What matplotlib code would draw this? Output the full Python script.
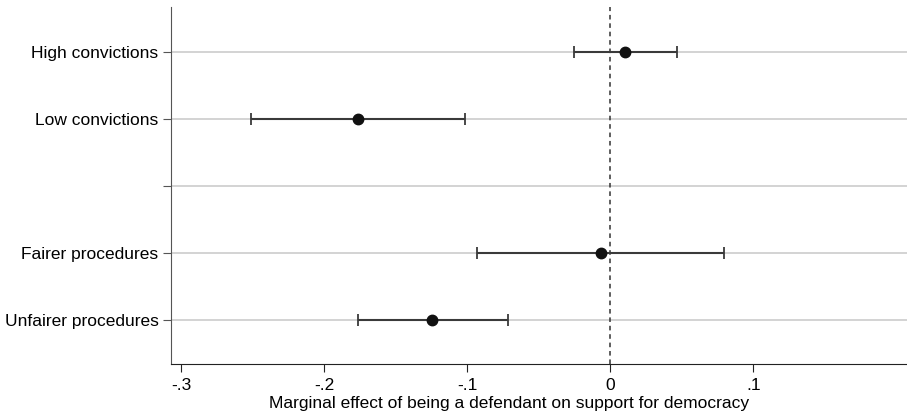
import matplotlib.pyplot as plt

plt.rcParams["font.family"] = ["Liberation Sans", "DejaVu Sans"]

# rows from top to bottom; the empty label is the spacer row
row_labels = ["High convictions", "Low convictions", "", "Fairer procedures", "Unfairer procedures"]
row_pos = [1, 2, 3, 4, 5]

point_labels = ["High convictions", "Low convictions", "Fairer procedures", "Unfairer procedures"]
point_pos = [1, 2, 4, 5]
estimate = [0.0107, -0.1762, -0.0067, -0.1242]
ci_low = [-0.0252, -0.2508, -0.0934, -0.1764]
ci_high = [0.0466, -0.1016, 0.0797, -0.0713]

xticks = [-0.3, -0.2, -0.1, 0.0, 0.1]
xtick_labels = ["-.3", "-.2", "-.1", "0", ".1"]

fig = plt.figure(figsize=(9.07, 4.16), dpi=100)
ax = fig.add_axes([171 / 907, 1 - 364 / 416, 1 - 171 / 907, (364 - 7) / 416])

for y in row_pos:
    ax.axhline(y, color="#c8c8c8", lw=1.1, zorder=1)

ax.axvline(0, color="#333333", lw=1.1, ls=(0, (3, 2.5)), zorder=2)

err_lo = [e - lo for e, lo in zip(estimate, ci_low)]
err_hi = [hi - e for e, hi in zip(estimate, ci_high)]
ax.errorbar(estimate, point_pos, xerr=[err_lo, err_hi], fmt="o", color="#111111",
            ecolor="#3a3a3a", elinewidth=1.5, capsize=4, capthick=1.3,
            markersize=7.5, zorder=3)

ax.set_xlim(-0.307, 0.2075)
ax.set_ylim(5.656, 0.334)
ax.set_yticks(row_pos)
ax.set_yticklabels(row_labels, fontsize=12.5)
ax.set_xticks(xticks)
ax.set_xticklabels(xtick_labels, fontsize=12.5)
ax.set_xlabel("Marginal effect of being a defendant on support for democracy", fontsize=12.5)
ax.xaxis.set_label_coords(0.46, -0.09)

for side in ["top", "right"]:
    ax.spines[side].set_visible(False)
ax.spines["left"].set_color("#555555")
ax.spines["bottom"].set_color("#222222")
ax.tick_params(axis="y", length=6, color="#555555", pad=3)
ax.tick_params(axis="x", length=6, color="#222222", pad=4)

fig.savefig("out.png", dpi=100)
